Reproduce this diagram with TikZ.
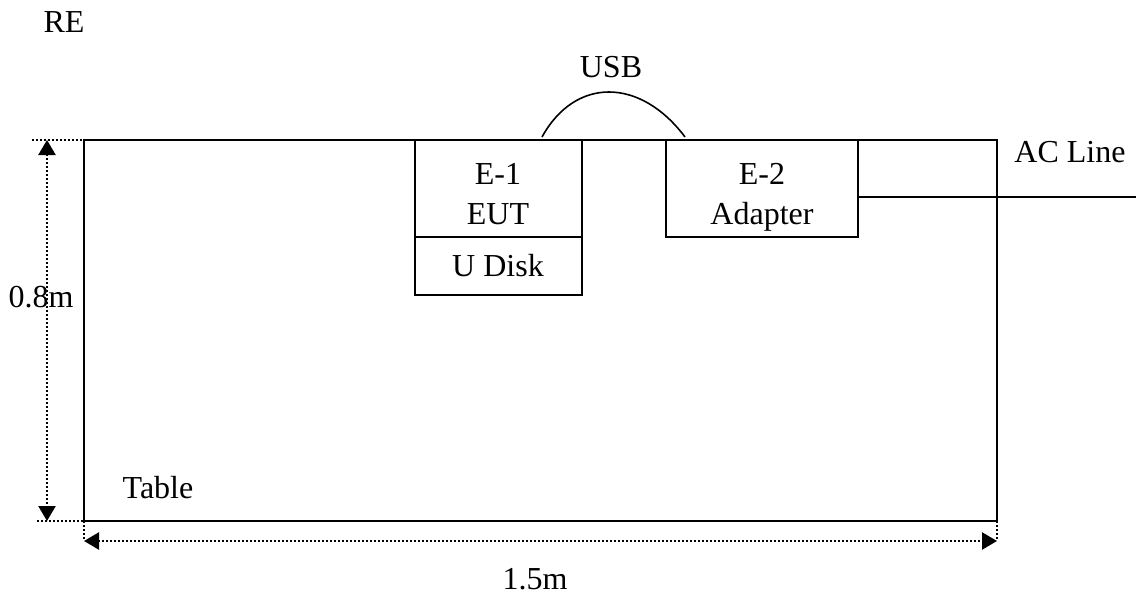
\documentclass[tikz,border=0pt]{standalone}
\usepackage{fontspec}
\setmainfont{Liberation Serif}
\usetikzlibrary{arrows.meta}

\begin{document}
\begin{tikzpicture}[x=0.5pt,y=-0.5pt,
   every node/.style={font=\fontsize{16}{20}\selectfont},
   box/.style={draw=black,line width=1pt,inner sep=0pt,outer sep=0pt,align=center},
   dim/.style={draw=black,line width=1.2pt,dash pattern=on 1pt off 1pt},
   dimarrow/.style={dim,{Triangle[length=7.5pt,width=8.5pt]}-{Triangle[length=7.5pt,width=8.5pt]}}]
   \useasboundingbox (0,0) rectangle (1139,599);
   \begin{scope}[every node/.append style={box}]
    \node[minimum width=456.5pt,minimum height=190.5pt] (table) at (540.5,330.5) {};
    \node[minimum width=83.5pt,minimum height=48.5pt,text height=35.5pt,text depth=0pt] (eut) at (498,188.5) {E-1\\EUT};
    \node[anchor=north,minimum width=83.5pt,minimum height=29pt] (disk) at (eut.south) {U Disk};
    \node[minimum width=96pt,minimum height=48.5pt,text height=35.5pt,text depth=0pt] (adp) at (762,188.5) {E-2\\Adapter};
   \end{scope}
   \node (re) at (64,22) {RE};
   \node (usb) at (611,67) {USB};
   \node (acl) at (1070,152) {AC Line};
   \node (hgt) at (41,297) {0.8m};
   \node (tbl) at (158,488) {Table};
   \node (wid) at (535,579) {1.5m};
   \coordinate (topL) at (32,140);
   \coordinate (botL) at (37,521);
   \coordinate (hTop) at (47,140);
   \coordinate (hBot) at (47,521);
   \coordinate (wL) at (84,541);
   \coordinate (wR) at (997,541);
   \coordinate (usbL) at (542,137);
   \coordinate (usbR) at (685,137);
   \coordinate (acEnd) at (1136,197);
   % dimension lines
   \draw[dim] (topL) -- (table.north west);
   \draw[dim] (botL) -- (table.south west);
   \draw[dimarrow] (hTop) -- (hBot);
   \draw[dim] (table.south west) -- (wL);
   \draw[dim] (table.south east) -- (wR);
   \draw[dimarrow] (wL) -- (wR);
   % cables
   \draw[line width=0.8pt] (usbL) .. controls (575,77) and (640,77) .. (usbR);
   \draw[line width=1pt] (adp.east |- acEnd) -- (acEnd);
\end{tikzpicture}
\end{document}
